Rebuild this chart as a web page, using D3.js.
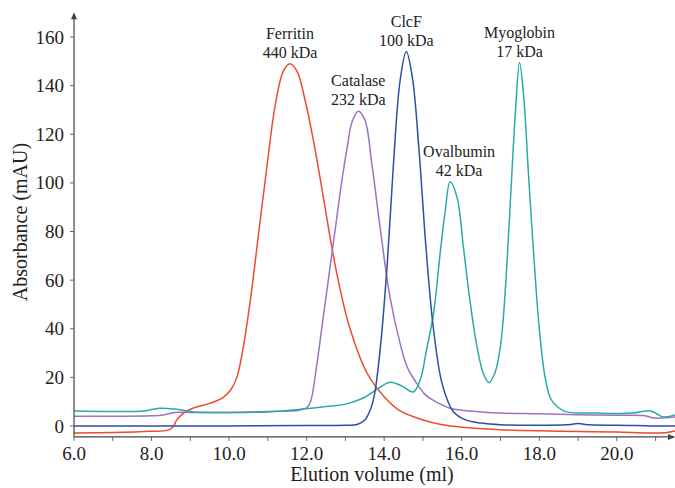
<!DOCTYPE html>
<html><head><meta charset="utf-8">
<script src="https://cdn.jsdelivr.net/npm/d3@7"></script>
<style>body{margin:0;background:#fff}svg{display:block}text{font-family:"Liberation Serif","Times New Roman",serif;fill:#222}</style>
</head><body>
<svg id="c" width="675" height="488"></svg>
<script>
const xTicks = [6,8,10,12,14,16,18,20];
const yTicks = [0,20,40,60,80,100,120,140,160];

const ferritin = [[6.0,-2.9],[7.0,-2.7],[8.0,-2.2],[8.4,-1.8],[8.55,-0.5],[8.65,2.5],[8.8,5],[9.05,7.2],[9.5,9.3],[9.85,11.8],[10.05,15],[10.2,20],[10.35,31],[10.55,52],[10.76,79],[10.97,106],[11.19,132],[11.4,146],[11.57,149],[11.75,146],[11.96,134],[12.18,117],[12.4,97],[12.6,78],[12.8,61],[13.1,41],[13.55,22],[14.0,12],[14.4,6.3],[15.0,2.5],[15.5,0.5],[16.0,-0.5],[17,-1.5],[18,-2],[19,-2.3],[20,-2.5],[20.8,-2.9],[21.2,-2.8],[21.5,-2]];
const catalase = [[6.0,4.0],[7.0,4.0],[8.0,4.2],[8.3,4.5],[8.6,5.6],[9.0,5.6],[10,5.6],[11,6],[11.8,6.5],[12.0,7.5],[12.1,10],[12.26,25],[12.43,45],[12.61,66],[12.78,86],[12.9,100],[13.05,115],[13.17,125],[13.33,129.5],[13.5,126],[13.68,108],[13.9,81],[14.15,53],[14.41,34],[14.6,24],[14.84,17.5],[15.05,13],[15.27,10.5],[15.7,7.3],[16.0,6.5],[16.5,5.8],[17,5.3],[18,5],[19,4.6],[20,4.4],[20.7,4.3],[20.95,3.3],[21.5,3.7]];
const clcF = [[6,0],[8,0],[10,0],[12,0.2],[13,0.3],[13.3,0.6],[13.5,2.5],[13.65,7],[13.75,13],[13.9,32],[14.08,67],[14.24,108],[14.41,142],[14.57,154],[14.73,143],[14.9,113],[15.08,73],[15.27,40],[15.5,17],[15.78,6],[16.1,2.5],[16.5,1.2],[17,0.5],[18,0.3],[18.7,0.5],[19,1],[19.3,0.5],[20,0.3],[20.5,0.2],[21,0],[21.5,0]];
const standards = [[6,6.2],[7,6],[7.8,6.2],[8.2,7.3],[8.6,7],[9.1,5.8],[10,5.6],[11,5.8],[11.8,6.8],[12.5,8],[13.0,9],[13.46,11.5],[13.8,15],[14.15,18],[14.45,16.5],[14.75,14],[14.93,19],[15.1,32],[15.27,46],[15.45,72],[15.57,88],[15.7,100.4],[15.88,94],[16.04,74],[16.2,53],[16.4,32],[16.56,21.5],[16.7,17.8],[16.86,22],[17.0,33],[17.08,46],[17.17,68],[17.28,100],[17.38,128],[17.49,149.5],[17.6,135],[17.72,104],[17.85,72],[18.0,40],[18.15,20],[18.3,11],[18.5,7.5],[18.7,5.8],[19.5,5.3],[20.4,5.3],[20.87,6.2],[21.2,3.7],[21.5,4.5]];

const seriesList = [
  {key:"ferritin", data:ferritin, color:"#ef4a2f"},
  {key:"catalase", data:catalase, color:"#9c73c1"},
  {key:"standards", data:standards, color:"#27aca3"},
  {key:"clcF", data:clcF, color:"#2f4ea3"}
];
const peakLabels = [
  {name:"Ferritin", mass:"440 kDa", series:"ferritin", from:10, to:13, dx:0},
  {name:"Catalase", mass:"232 kDa", series:"catalase", from:12, to:14, dx:0},
  {name:"ClcF", mass:"100 kDa", series:"clcF", from:14, to:15, dx:0},
  {name:"Ovalbumin", mass:"42 kDa", series:"standards", from:15, to:16.5, dx:9},
  {name:"Myoglobin", mass:"17 kDa", series:"standards", from:17, to:18, dx:0}
];

const svg = d3.select("#c");
const x = d3.scaleLinear().domain([6,21.5]).range([74,675]);
const y = d3.scaleLinear().domain([0,160]).range([426,37]);
const yBot = y(-4.5), yTop = y(170.2);

const line = d3.line().x(d=>x(d[0])).y(d=>y(d[1])).curve(d3.curveCatmullRom.alpha(0.5));
const g = svg.append("g");
seriesList.forEach(s=>{
  g.append("path").datum(s.data).attr("d",line).attr("fill","none")
   .attr("stroke",s.color).attr("stroke-width",1.5).attr("stroke-linejoin","round");
});

// axes
const ax = svg.append("g");
ax.append("line").attr("x1",x(6)).attr("x2",x(21.5)-1).attr("y1",yBot).attr("y2",yBot).attr("stroke","#444").attr("stroke-width",1.2);
ax.append("path").attr("d",`M${x(21.5)},${yBot} l-7,-3 l0,6 z`).attr("fill","#444");
ax.append("line").attr("x1",x(6)).attr("x2",x(6)).attr("y1",yBot).attr("y2",yTop+2).attr("stroke","#444").attr("stroke-width",1.2);
ax.append("path").attr("d",`M${x(6)},${yTop} l-3,7 l6,0 z`).attr("fill","#444");

const minor = d3.range(6,22,1);
ax.selectAll(".xt").data(minor).enter().append("line")
  .attr("x1",d=>x(d)).attr("x2",d=>x(d)).attr("y1",yBot).attr("y2",yBot+4).attr("stroke","#666");
ax.selectAll(".xl").data(xTicks).enter().append("text")
  .attr("x",d=>x(d)).attr("y",460).attr("text-anchor","middle").attr("font-size",19).text(d=>d3.format(".1f")(d));
ax.selectAll(".yt").data(yTicks).enter().append("line")
  .attr("x1",x(6)-4).attr("x2",x(6)).attr("y1",d=>y(d)).attr("y2",d=>y(d)).attr("stroke","#666");
ax.selectAll(".yl").data(yTicks).enter().append("text")
  .attr("x",64).attr("y",d=>y(d)+6.5).attr("text-anchor","end").attr("font-size",19).text(d=>d);

svg.append("text").attr("x",372).attr("y",481).attr("text-anchor","middle").attr("font-size",20).text("Elution volume (ml)");
svg.append("text").attr("transform","translate(27,222) rotate(-90)").attr("text-anchor","middle").attr("font-size",20).text("Absorbance (mAU)");

// peak labels
const byKey = Object.fromEntries(seriesList.map(s=>[s.key,s.data]));
peakLabels.forEach(p=>{
  const pts = byKey[p.series].filter(d=>d[0]>=p.from && d[0]<=p.to);
  const pk = pts.reduce((a,b)=>b[1]>a[1]?b:a);
  const px = x(pk[0])+p.dx, py = y(pk[1]);
  svg.append("text").attr("x",px).attr("y",py-6).attr("text-anchor","middle").attr("font-size",16).text(p.mass);
  svg.append("text").attr("x",px).attr("y",py-25).attr("text-anchor","middle").attr("font-size",16).text(p.name);
});
</script>
</body></html>
